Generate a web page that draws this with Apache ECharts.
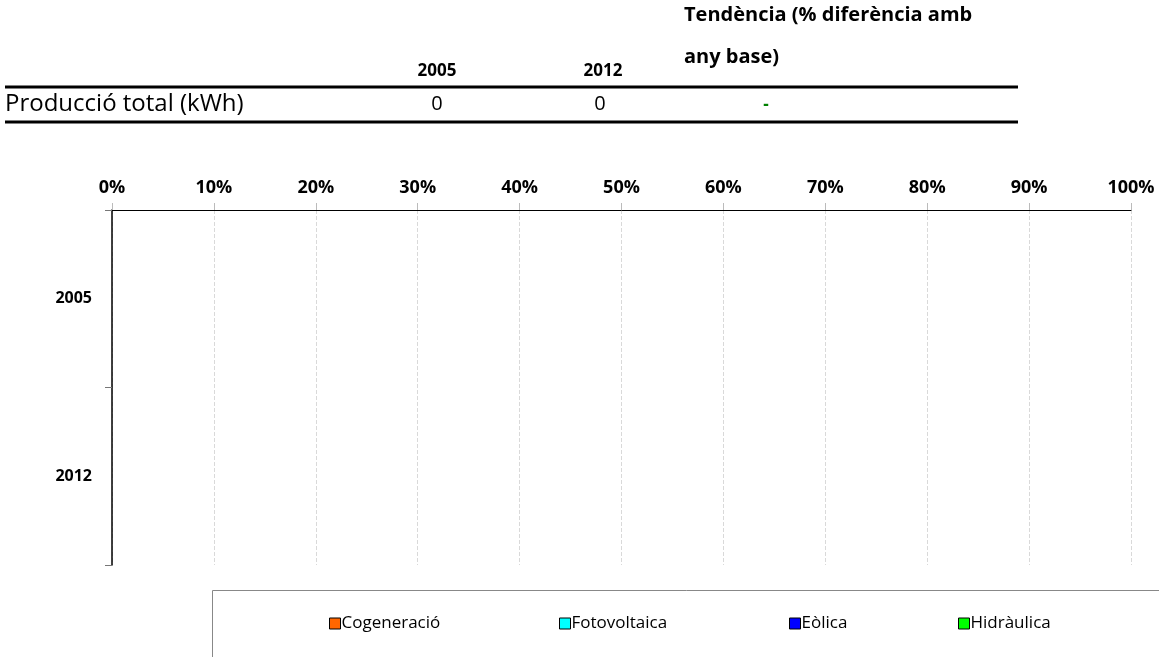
<!DOCTYPE html>
<html><head><meta charset="utf-8">
<script src="https://cdn.jsdelivr.net/npm/echarts@6/dist/echarts.min.js"></script>
<style>html,body{margin:0;padding:0;background:#fff}#c{width:1159px;height:657px}</style>
</head><body><div id="c"></div>
<script>
const years = ['2005', '2012'];
const seriesNames = ['Cogeneració', 'Fotovoltaica', 'Eòlica', 'Hidràulica'];
const seriesColors = ['#FF6600', '#00FFFF', '#0000FF', '#00FF00'];
const cogeneracio = [0, 0];
const fotovoltaica = [0, 0];
const eolica = [0, 0];
const hidraulica = [0, 0];
const totalProduction = [0, 0];
const trendText = '-';
const seriesValues = [cogeneracio, fotovoltaica, eolica, hidraulica];
const legendLeft = [324, 554, 784, 953];

const FONT = '"Open Sans", sans-serif';
const chart = echarts.init(document.getElementById('c'));

const option = {
  animation: false,
  textStyle: { fontFamily: FONT },
  grid: { left: 112, right: 28, top: 210, bottom: 92, containLabel: false },
  xAxis: {
    type: 'value', position: 'top', min: 0, max: 100, interval: 10,
    axisLine: { show: true, lineStyle: { color: '#000', width: 1 } },
    axisTick: { show: true, inside: false, length: 7, lineStyle: { color: '#bbb' } },
    axisLabel: { formatter: v => v + '%', fontWeight: 'bold', fontSize: 18, color: '#000', fontFamily: FONT, margin: 13 },
    splitLine: { show: true, lineStyle: { color: '#d9d9d9', type: 'dashed', width: 1 } }
  },
  yAxis: {
    type: 'category', data: years, inverse: true,
    axisLine: { show: true, lineStyle: { color: '#000', width: 1.5 } },
    axisTick: { show: true, length: 7, alignWithLabel: false, lineStyle: { color: '#777' } },
    axisLabel: { fontWeight: 'bold', fontSize: 16, color: '#000', fontFamily: FONT, margin: 20 },
    splitLine: { show: false }
  },
  legend: seriesNames.map((n, i) => ({
    data: [n], bottom: 20, left: legendLeft[i], itemWidth: 11, itemHeight: 11, icon: 'rect',
    itemStyle: { borderColor: '#000', borderWidth: 1 },
    textStyle: { fontSize: 17, color: '#000', fontFamily: FONT, padding: [0, 0, 0, -4] }
  })),
  series: seriesNames.map((n, i) => ({
    name: n, type: 'bar', stack: 'total', data: seriesValues[i],
    itemStyle: { color: seriesColors[i], borderColor: '#000', borderWidth: 0 }
  })),
  graphic: [
    { type: 'rect', shape: { x: 212.5, y: 590.5, width: 1000, height: 100 }, style: { fill: 'none', stroke: '#888', lineWidth: 1 }, z: -1 },
    { type: 'text', x: 684, y: 15, style: { text: 'Tendència (% diferència amb', font: 'bold 20px ' + FONT, fill: '#000', verticalAlign: 'middle' } },
    { type: 'text', x: 684, y: 57, style: { text: 'any base)', font: 'bold 20px ' + FONT, fill: '#000', verticalAlign: 'middle' } },
    { type: 'text', x: 437, y: 71, style: { text: years[0], font: 'bold 17px ' + FONT, fill: '#000', align: 'center', verticalAlign: 'middle' } },
    { type: 'text', x: 603, y: 71, style: { text: years[1], font: 'bold 17px ' + FONT, fill: '#000', align: 'center', verticalAlign: 'middle' } },
    { type: 'line', shape: { x1: 5, y1: 87, x2: 1018, y2: 87 }, style: { stroke: '#000', lineWidth: 3 } },
    { type: 'text', x: 5, y: 104, style: { text: 'Producció total (kWh)', font: '24px ' + FONT, fill: '#000', verticalAlign: 'middle' } },
    { type: 'text', x: 437, y: 104, style: { text: String(totalProduction[0]), font: '20px ' + FONT, fill: '#000', align: 'center', verticalAlign: 'middle' } },
    { type: 'text', x: 600, y: 104, style: { text: String(totalProduction[1]), font: '20px ' + FONT, fill: '#000', align: 'center', verticalAlign: 'middle' } },
    { type: 'text', x: 766, y: 105, style: { text: trendText, font: 'bold 17px ' + FONT, fill: '#008000', align: 'center', verticalAlign: 'middle' } },
    { type: 'line', shape: { x1: 5, y1: 122, x2: 1018, y2: 122 }, style: { stroke: '#000', lineWidth: 3 } }
  ]
};
chart.setOption(option);
</script></body></html>
